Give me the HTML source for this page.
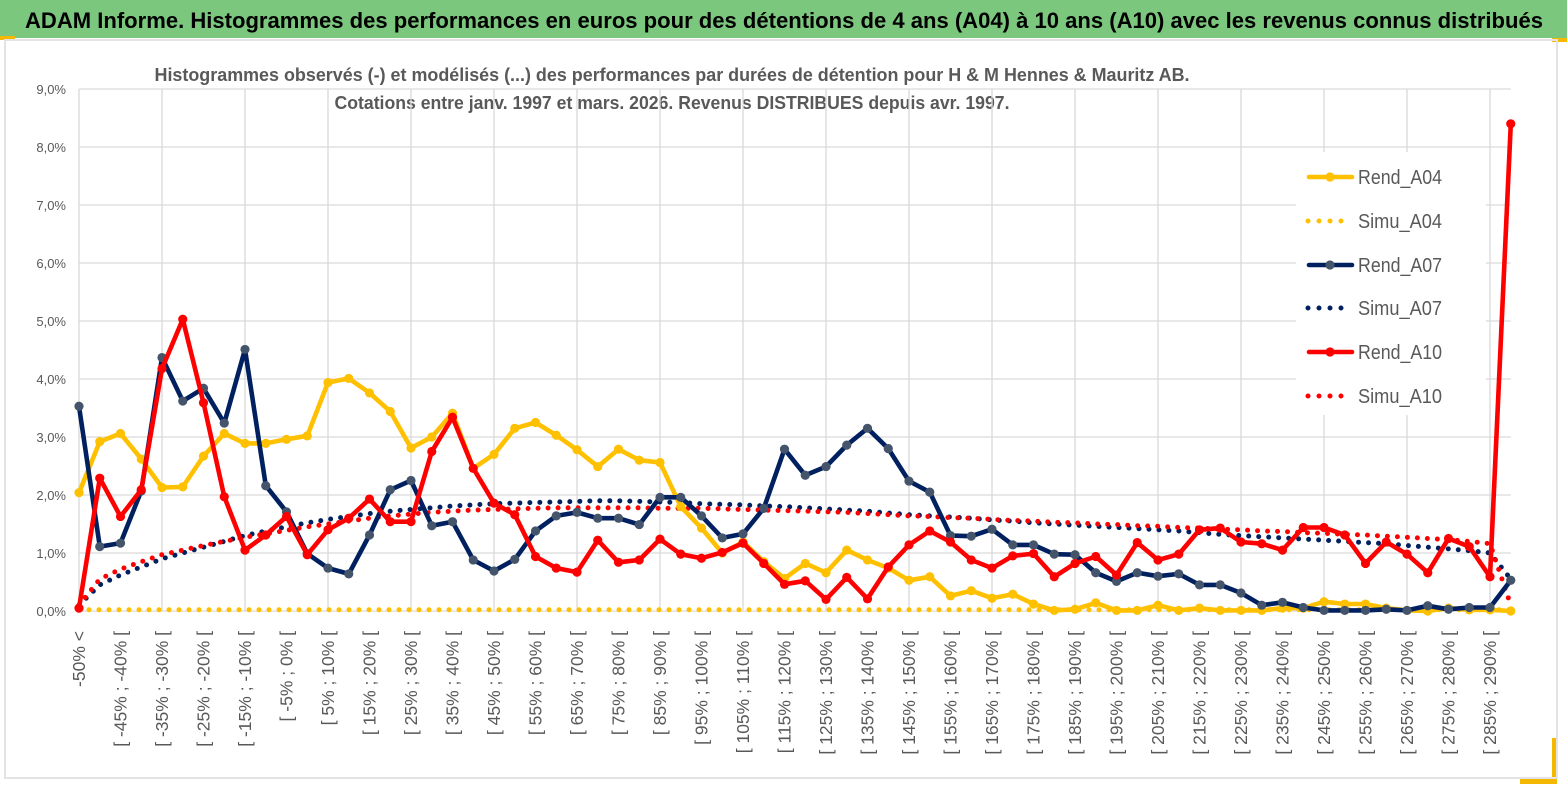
<!DOCTYPE html>
<html><head><meta charset="utf-8"><style>
html,body{margin:0;padding:0;background:#fff;}
svg{display:block;font-family:"Liberation Sans",sans-serif;}
</style></head><body>
<svg id="chart" width="1567" height="789" viewBox="0 0 1567 789" xmlns="http://www.w3.org/2000/svg">
<rect x="0" y="0" width="1567" height="789" fill="#fff"/>
<rect x="0" y="0" width="1567" height="38" fill="#7cc77e"/>
<rect x="0" y="36" width="15" height="4" fill="#f5b800"/>
<rect x="1552" y="38" width="15" height="4" fill="#f5b800"/>
<rect x="1552" y="738" width="5" height="46" fill="#f5b800"/>
<rect x="1520" y="779" width="37" height="5" fill="#f5b800"/>
<rect x="5" y="40" width="1552" height="738" fill="none" stroke="#e3e3e3" stroke-width="2"/>
<text x="25" y="28" font-size="22" font-weight="bold" fill="#000" textLength="1518" lengthAdjust="spacingAndGlyphs">ADAM Informe. Histogrammes des performances en euros pour des détentions de 4 ans (A04) à 10 ans (A10) avec les revenus connus distribués</text>
<text x="672" y="81" font-size="18" font-weight="bold" fill="#595959" text-anchor="middle" textLength="1035" lengthAdjust="spacingAndGlyphs">Histogrammes observés (-) et modélisés (...) des performances par durées de détention pour H &amp; M Hennes &amp; Mauritz AB.</text>
<text x="672" y="109" font-size="18" font-weight="bold" fill="#595959" text-anchor="middle" textLength="675" lengthAdjust="spacingAndGlyphs">Cotations entre janv. 1997 et mars. 2026. Revenus DISTRIBUES depuis avr. 1997.</text>
<g id="grid"></g>
<g id="yaxis"></g>
<g id="xaxis"></g>
<g id="series"></g>
<g id="legend"></g>
</svg>
<script>
const categoryStarts = [-50,-50,-45,-40,-35,-30,-25,-20,-15,-10,-5,0,5,10,15,20,25,30,35,40,45,50,55,60,65,70,75,80,85,90,95,100,105,110,115,120,125,130,135,140,145,150,155,160,165,170,175,180,185,190,195,200,205,210,215,220,225,230,235,240,245,250,255,260,265,270,275,280,285,290];
const yTicks = [0,1,2,3,4,5,6,7,8,9];
const rendA04 = [2.04,2.92,3.06,2.62,2.13,2.14,2.67,3.06,2.89,2.89,2.96,3.02,3.94,4.01,3.76,3.44,2.81,3.0,3.41,2.46,2.70,3.15,3.25,3.03,2.78,2.49,2.79,2.6,2.56,1.80,1.43,1.0,1.19,0.85,0.56,0.82,0.66,1.05,0.88,0.74,0.53,0.59,0.26,0.35,0.22,0.29,0.12,0.01,0.03,0.14,0.01,0.01,0.1,0.01,0.05,0.01,0.01,0.01,0.05,0.05,0.16,0.12,0.12,0.05,0.01,0.0,0.05,0.02,0.02,0.0];
const simuA04 = [0.02,0.02,0.02,0.02,0.02,0.02,0.02,0.02,0.02,0.02,0.02,0.02,0.02,0.02,0.02,0.02,0.02,0.02,0.02,0.02,0.02,0.02,0.02,0.02,0.02,0.02,0.02,0.02,0.02,0.02,0.02,0.02,0.02,0.02,0.02,0.02,0.02,0.02,0.02,0.02,0.02,0.02,0.02,0.02,0.02,0.02,0.02,0.02,0.02,0.02,0.02,0.02,0.02,0.02,0.02,0.02,0.02,0.02,0.02,0.02,0.02,0.02,0.02,0.02,0.02,0.02,0.02,0.02,0.02,0.02];
const rendA07 = [3.53,1.11,1.17,2.07,4.37,3.62,3.84,3.24,4.51,2.16,1.71,0.99,0.74,0.64,1.31,2.09,2.25,1.47,1.54,0.88,0.69,0.89,1.38,1.64,1.70,1.60,1.60,1.49,1.96,1.96,1.64,1.26,1.33,1.77,2.79,2.34,2.49,2.86,3.15,2.80,2.24,2.05,1.30,1.29,1.41,1.14,1.14,0.98,0.97,0.66,0.51,0.66,0.60,0.64,0.45,0.45,0.31,0.1,0.15,0.06,0.01,0.01,0.01,0.03,0.01,0.09,0.03,0.06,0.06,0.53];
const simuA07 = [0.1,0.45,0.62,0.76,0.9,1.0,1.1,1.2,1.3,1.38,1.45,1.52,1.58,1.63,1.68,1.72,1.75,1.78,1.81,1.83,1.85,1.86,1.87,1.88,1.89,1.9,1.9,1.89,1.88,1.87,1.85,1.84,1.83,1.81,1.8,1.78,1.76,1.74,1.72,1.69,1.66,1.64,1.62,1.6,1.57,1.55,1.52,1.5,1.48,1.46,1.44,1.42,1.4,1.38,1.35,1.32,1.3,1.28,1.26,1.24,1.22,1.2,1.18,1.16,1.13,1.1,1.07,1.04,1.0,0.55];
const rendA10 = [0.05,2.29,1.63,2.09,4.18,5.03,3.59,1.97,1.05,1.31,1.63,0.97,1.4,1.6,1.93,1.54,1.54,2.75,3.34,2.46,1.86,1.66,0.94,0.74,0.67,1.22,0.84,0.88,1.24,0.98,0.91,1.01,1.17,0.82,0.46,0.52,0.20,0.58,0.21,0.76,1.14,1.38,1.19,0.88,0.74,0.95,0.99,0.59,0.82,0.94,0.62,1.18,0.88,0.98,1.40,1.43,1.19,1.16,1.05,1.44,1.44,1.31,0.82,1.19,0.98,0.66,1.25,1.11,0.59,8.4];
const simuA10 = [0.1,0.55,0.72,0.85,0.97,1.05,1.13,1.2,1.27,1.33,1.39,1.45,1.5,1.55,1.6,1.64,1.67,1.7,1.72,1.74,1.75,1.76,1.77,1.78,1.78,1.78,1.78,1.78,1.77,1.77,1.77,1.76,1.75,1.74,1.73,1.72,1.71,1.7,1.68,1.66,1.64,1.63,1.61,1.6,1.58,1.56,1.55,1.53,1.52,1.5,1.49,1.47,1.46,1.44,1.43,1.41,1.4,1.38,1.37,1.35,1.34,1.32,1.31,1.29,1.27,1.25,1.23,1.2,1.16,0.1];

const NS = "http://www.w3.org/2000/svg";
const X0 = 79, DX = 20.75, Y0 = 611, PPU = 58;
function xPos(i){ return X0 + i*DX; }
function yPos(v){ return Y0 - v*PPU; }
function mk(tag, attrs, parent){
  const e = document.createElementNS(NS, tag);
  for (const k in attrs) e.setAttribute(k, attrs[k]);
  parent.appendChild(e);
  return e;
}
const grid = document.getElementById('grid');
const yaxis = document.getElementById('yaxis');
const xaxis = document.getElementById('xaxis');
const seriesG = document.getElementById('series');
const legend = document.getElementById('legend');
const n = categoryStarts.length;
const xEnd = xPos(n-1);

yTicks.forEach(t => {
  const l = mk('line', {x1:X0, x2:xEnd, y1:yPos(t), y2:yPos(t), stroke:'#d9d9d9', 'stroke-width':1.3}, grid);
  
  
  const tx = mk('text', {x:66, y:yPos(t)+5, 'font-size':13, fill:'#595959', 'text-anchor':'end'}, yaxis);
  tx.textContent = t.toFixed(1).replace('.', ',') + '%';
  
  
});
for (let i = 0; i < n; i += 4) {
  const l = mk('line', {x1:xPos(i), x2:xPos(i), y1:yPos(9), y2:Y0, stroke:'#d9d9d9', 'stroke-width':1.3}, grid);
  
  
}
function catLabel(i){
  if (i === 0) return '-50% <';
  const a = categoryStarts[i], b = a + 5;
  return '[ ' + a + '% ; ' + b + '% [';
}
for (let i = 0; i < n - 1; i += 2) {
  const x = xPos(i) + 6;
  const tx = mk('text', {x:0, y:0, 'font-size':17.5, fill:'#595959', 'text-anchor':'end', transform:'translate(' + x + ',631) rotate(-90)'}, xaxis);
  tx.textContent = catLabel(i);
  
  
}

function pathD(arr){ return arr.map((v,i) => (i ? 'L' : 'M') + xPos(i).toFixed(1) + ' ' + yPos(v).toFixed(1)).join(' '); }
function drawDotted(arr, color, name){
  const p = mk('path', {d:pathD(arr), fill:'none', stroke:color, 'stroke-width':5, 'stroke-linecap':'round', 'stroke-dasharray':'0 10'}, seriesG);
  
  
}
function drawRend(arr, color, mfill, name){
  const p = mk('path', {d:pathD(arr), fill:'none', stroke:color, 'stroke-width':4.6, 'stroke-linejoin':'round'}, seriesG);
  
  
  arr.forEach((v,i) => {
    const c = mk('circle', {cx:xPos(i), cy:yPos(v), r:4.6, fill:mfill}, seriesG);
    
    
  });
}
drawDotted(simuA04, '#ffc000', 'simu-a04-line');
drawDotted(simuA07, '#002060', 'simu-a07-line');
drawDotted(simuA10, '#ff0000', 'simu-a10-line');
drawRend(rendA04, '#ffc000', '#ffc000', 'rend-a04-line');
drawRend(rendA07, '#002060', '#44546a', 'rend-a07-line');
drawRend(rendA10, '#ff0000', '#ff0000', 'rend-a10-line');

const lb = mk('rect', {x:1296, y:152, width:190, height:263, fill:'#fff'}, legend);


const entries = [
  ['Rend_A04', '#ffc000', '#ffc000', false],
  ['Simu_A04', '#ffc000', null, true],
  ['Rend_A07', '#002060', '#44546a', false],
  ['Simu_A07', '#002060', null, true],
  ['Rend_A10', '#ff0000', '#ff0000', false],
  ['Simu_A10', '#ff0000', null, true]
];
const rowsY = [177, 221, 265, 308, 352, 396];
entries.forEach((e, k) => {
  const y = rowsY[k];
  const g = mk('g', {}, legend);
  
  
  if (e[3]) {
    mk('line', {x1:1308, x2:1352, y1:y, y2:y, stroke:e[1], 'stroke-width':5, 'stroke-linecap':'round', 'stroke-dasharray':'0 11'}, g);
  } else {
    mk('line', {x1:1309, x2:1352, y1:y, y2:y, stroke:e[1], 'stroke-width':4.6, 'stroke-linecap':'round'}, g);
    mk('circle', {cx:1330, cy:y, r:4.6, fill:e[2]}, g);
  }
  const t = mk('text', {x:1358, y:y+7, 'font-size':20, fill:'#595959', textLength:84, lengthAdjust:'spacingAndGlyphs'}, g);
  t.textContent = e[0];
});
</script>
</body></html>
